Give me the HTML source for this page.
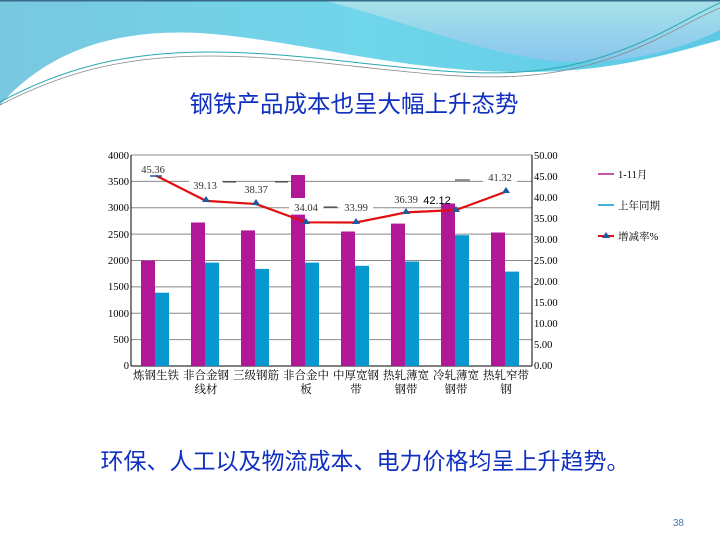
<!DOCTYPE html><html><head><meta charset="utf-8"><style>body{margin:0;width:720px;height:540px;overflow:hidden;background:#fff;font-family:"Liberation Serif","Noto Serif CJK SC",serif}</style></head><body>
<svg width="720" height="540" xmlns="http://www.w3.org/2000/svg" font-family="'Liberation Serif','Noto Serif CJK SC',serif">
<defs><linearGradient id="g1" x1="0" y1="0" x2="1" y2="0"><stop offset="0" stop-color="#78c8e0"/><stop offset="0.5" stop-color="#70d6ea"/><stop offset="1" stop-color="#5cc8e6"/></linearGradient>
<linearGradient id="g2" x1="0" y1="0" x2="0" y2="1"><stop offset="0" stop-color="#a8e2ea"/><stop offset="1" stop-color="#88c6ec"/></linearGradient></defs>
<rect width="720" height="540" fill="#fff"/>
<path d="M0 0H720V40C650 60 600 72 520 72C400 72 300 40 200 33C100 28 40 60 0 105Z" fill="url(#g1)"/>
<path d="M322 0H720V30C680 50 630 62 580 62C500 62 420 25 322 0Z" fill="url(#g2)"/>
<path d="M0 102C60 70 120 52 210 52C320 52 430 78 520 72C620 66 680 20 720 3" fill="none" stroke="#2aa8b0" stroke-width="1"/>
<path d="M0 105C60 74 120 56 210 56C320 56 430 82 520 76C620 70 680 24 720 8" fill="none" stroke="#888" stroke-width="0.8"/>
<rect x="0" y="0" width="720" height="1.5" fill="#3a6a8a"/>
<text x="354" y="112" font-size="23.5" fill="#1030c0" text-anchor="middle" font-family="'Liberation Sans','Noto Sans CJK SC',sans-serif">钢铁产品成本也呈大幅上升态势</text>
<g stroke="#888" stroke-width="1">
<line x1="131" y1="155" x2="532" y2="155"/><line x1="131" y1="181.4" x2="532" y2="181.4"/><line x1="131" y1="207.8" x2="532" y2="207.8"/><line x1="131" y1="234.1" x2="532" y2="234.1"/><line x1="131" y1="260.5" x2="532" y2="260.5"/><line x1="131" y1="286.9" x2="532" y2="286.9"/><line x1="131" y1="313.3" x2="532" y2="313.3"/><line x1="131" y1="339.6" x2="532" y2="339.6"/>
</g>
<g stroke="#000" stroke-width="1"><line x1="131" y1="155" x2="131" y2="366"/><line x1="532" y1="155" x2="532" y2="366"/><line x1="131" y1="366" x2="532" y2="366"/></g>
<g font-size="10.5" text-anchor="end" fill="#000">
<text x="129" y="159">4000</text><text x="129" y="185">3500</text><text x="129" y="211">3000</text><text x="129" y="238">2500</text><text x="129" y="264">2000</text><text x="129" y="290">1500</text><text x="129" y="317">1000</text><text x="129" y="343">500</text><text x="129" y="369">0</text></g>
<g font-size="10.5" fill="#000">
<text x="534" y="159">50.00</text><text x="534" y="180">45.00</text><text x="534" y="201">40.00</text><text x="534" y="222">35.00</text><text x="534" y="243">30.00</text><text x="534" y="264">25.00</text><text x="534" y="285">20.00</text><text x="534" y="306">15.00</text><text x="534" y="327">10.00</text><text x="534" y="348">5.00</text><text x="534" y="369">0.00</text></g>
<g fill="#b01898">
<rect x="141" y="260.5" width="14" height="105.5"/><rect x="191" y="222.5" width="14" height="143.5"/><rect x="241" y="230.4" width="14" height="135.6"/><rect x="291" y="214.6" width="14" height="151.4"/><rect x="341" y="231.5" width="14" height="134.5"/><rect x="391" y="223.6" width="14" height="142.4"/><rect x="441" y="203.5" width="14" height="162.5"/><rect x="491" y="232.5" width="14" height="133.5"/>
<rect x="291" y="175" width="14" height="23"/></g>
<g fill="#0898d0">
<rect x="155" y="292.7" width="14" height="73.3"/><rect x="205" y="262.6" width="14" height="103.4"/><rect x="255" y="268.9" width="14" height="97.1"/><rect x="305" y="262.6" width="14" height="103.4"/><rect x="355" y="265.8" width="14" height="100.2"/><rect x="405" y="261.5" width="14" height="104.5"/><rect x="455" y="235.2" width="14" height="130.8"/><rect x="505" y="271.6" width="14" height="94.4"/></g>
<polyline points="156,175.6 206,200.9 256,204 306,222.3 356,222.5 406,212.4 456,210 506,191.6" fill="none" stroke="#e01010" stroke-width="2.2"/>
<g fill="#1c5aa0">
<path d="M206 196l4 6h-8z"/><path d="M256 199l4 6h-8z"/><path d="M306 218l4 6h-8z"/><path d="M356 218l4 6h-8z"/><path d="M406 208l4 6h-8z"/><path d="M456 206l4 6h-8z"/><path d="M506 187l4 6h-8z"/></g>
<line x1="150" y1="176" x2="162" y2="176" stroke="#1c5aa0" stroke-width="1.5"/>
<g fill="#fff"><rect x="137" y="162" width="32" height="13"/><rect x="189" y="178" width="33" height="13"/><rect x="239" y="182" width="34" height="13"/><rect x="289" y="200" width="34" height="13"/><rect x="339" y="200" width="34" height="13"/><rect x="389" y="192" width="34" height="13"/><rect x="483" y="170" width="34" height="13"/></g>
<g stroke="#000" stroke-width="0.8"><line x1="223" y1="182" x2="236" y2="182"/><line x1="275" y1="182" x2="288" y2="182"/><line x1="324" y1="207" x2="337" y2="207"/><line x1="455" y1="180" x2="470" y2="180"/></g>
<g font-size="10.5" text-anchor="middle" fill="#333">
<text x="153" y="173">45.36</text><text x="205" y="189">39.13</text><text x="256" y="193">38.37</text><text x="306" y="211">34.04</text><text x="356" y="211">33.99</text><text x="406" y="203">36.39</text><text x="500" y="181">41.32</text></g>
<text x="437" y="204" font-size="11" text-anchor="middle" fill="#000" font-family="'Liberation Sans',sans-serif">42.12</text>
<g font-size="11.5" text-anchor="middle" fill="#000">
<text x="156" y="379">炼钢生铁</text><text x="206" y="379">非合金钢</text><text x="206" y="393">线材</text><text x="256" y="379">三级钢筋</text><text x="306" y="379">非合金中</text><text x="306" y="393">板</text><text x="356" y="379">中厚宽钢</text><text x="356" y="393">带</text><text x="406" y="379">热轧薄宽</text><text x="406" y="393">钢带</text><text x="456" y="379">冷轧薄宽</text><text x="456" y="393">钢带</text><text x="506" y="379">热轧窄带</text><text x="506" y="393">钢</text></g>
<line x1="598" y1="174" x2="614" y2="174" stroke="#b01898" stroke-width="1.5"/><text x="618" y="178" font-size="10.5">1-11月</text>
<line x1="598" y1="205" x2="614" y2="205" stroke="#0898d0" stroke-width="1.5"/><text x="618" y="209" font-size="10.5">上年同期</text>
<line x1="598" y1="236" x2="614" y2="236" stroke="#e01010" stroke-width="2"/><path d="M606 232l4 6h-8z" fill="#1c5aa0"/><text x="618" y="240" font-size="10.5">增减率%</text>
<text x="365" y="469" font-size="23" fill="#1030c0" text-anchor="middle" font-family="'Liberation Sans','Noto Sans CJK SC',sans-serif">环保、人工以及物流成本、电力价格均呈上升趋势。</text>
<text x="684" y="526" font-size="10" fill="#4a7aaa" text-anchor="end" font-family="'Liberation Sans',sans-serif">38</text>
</svg></body></html>
